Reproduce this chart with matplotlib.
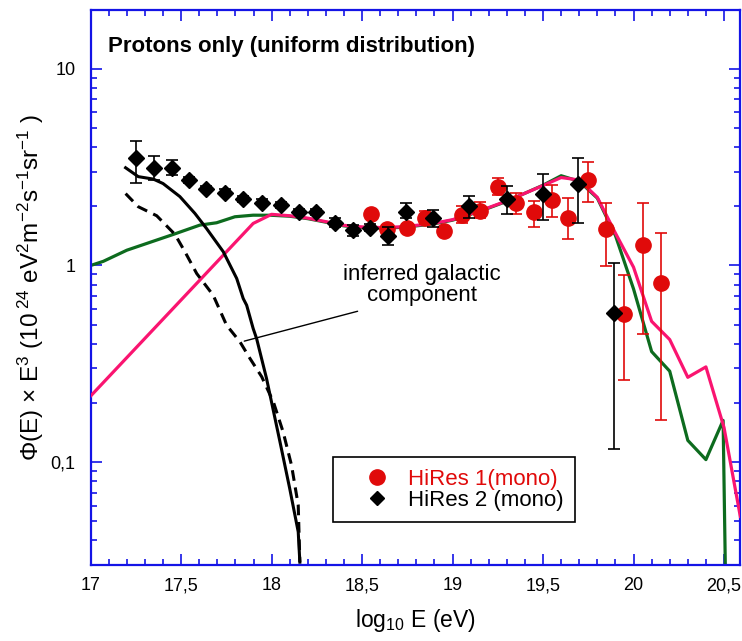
import numpy as np
import matplotlib
matplotlib.use("Agg")
import matplotlib.pyplot as plt
from matplotlib.ticker import FixedLocator, MultipleLocator, LogLocator, FuncFormatter, NullFormatter
from matplotlib.lines import Line2D

plt.rcParams['font.family'] = ['Liberation Sans', 'DejaVu Sans']
plt.rcParams['mathtext.fontset'] = 'custom'
plt.rcParams['mathtext.rm'] = 'Liberation Sans'
plt.rcParams['mathtext.it'] = 'Liberation Sans:italic'

# HiRes 1 (mono)
x_hr1 = [18.55, 18.64, 18.75, 18.85, 18.95, 19.05, 19.15, 19.25, 19.35, 19.45,
         19.55, 19.64, 19.75, 19.85, 19.95, 20.05, 20.15]
y_hr1 = [1.82, 1.54, 1.56, 1.75, 1.50, 1.80, 1.89, 2.52, 2.07, 1.86,
         2.15, 1.75, 2.72, 1.53, 0.565, 1.27, 0.817]
lo_hr1 = [1.76, 1.49, 1.51, 1.62, 1.45, 1.64, 1.74, 2.28, 1.82, 1.57,
          1.77, 1.36, 2.11, 0.99, 0.263, 0.446, 0.163]
hi_hr1 = [1.89, 1.60, 1.62, 1.89, 1.56, 2.01, 2.11, 2.77, 2.35, 2.12,
          2.58, 2.21, 3.37, 2.09, 0.892, 2.09, 1.455]

# HiRes 2 (mono)
x_hr2 = [17.25, 17.35, 17.45, 17.545, 17.64, 17.74, 17.84, 17.945, 18.05, 18.15,
         18.245, 18.35, 18.45, 18.543, 18.644, 18.742, 18.893, 19.09, 19.298, 19.50,
         19.694, 19.892]
y_hr2 = [3.50, 3.12, 3.14, 2.72, 2.46, 2.35, 2.18, 2.09, 2.03, 1.88,
         1.86, 1.65, 1.51, 1.56, 1.42, 1.88, 1.74, 2.01, 2.18, 2.30,
         2.61, 0.574]
lo_hr2 = [2.64, 2.72, 2.90, 2.62, 2.38, 2.27, 2.10, 2.02, 1.96, 1.82,
          1.80, 1.57, 1.42, 1.50, 1.27, 1.74, 1.57, 1.74, 1.82, 1.70,
          1.64, 0.116]
hi_hr2 = [4.31, 3.59, 3.43, 2.83, 2.55, 2.44, 2.26, 2.17, 2.10, 1.94,
          1.93, 1.74, 1.60, 1.62, 1.57, 2.07, 1.91, 2.26, 2.54, 2.91,
          3.50, 1.035]

# model: green curve
x_green = [17.0, 17.07, 17.2, 17.456, 17.603, 17.696, 17.797, 17.898, 18.0, 18.1,
           18.2, 18.3, 18.4, 18.5, 18.6, 18.7, 18.8, 18.9, 19.0, 19.1,
           19.2, 19.3, 19.4, 19.5, 19.6, 19.7, 19.8, 19.9, 20.0, 20.1,
           20.2, 20.3, 20.4, 20.495, 20.515]
y_green = [1.0, 1.05, 1.196, 1.438, 1.604, 1.649, 1.769, 1.802, 1.80, 1.78,
           1.73, 1.66, 1.59, 1.56, 1.55, 1.56, 1.59, 1.63, 1.70, 1.82,
           1.96, 2.12, 2.33, 2.56, 2.86, 2.68, 2.20, 1.42, 0.76, 0.365,
           0.29, 0.129, 0.103, 0.163, 0.01]

# model: pink curve
x_pink = [17.0, 17.898, 18.0, 18.1, 18.2, 18.3, 18.4, 18.5, 18.6, 18.7,
          18.8, 18.9, 19.0, 19.1, 19.2, 19.3, 19.4, 19.5, 19.6, 19.7,
          19.8, 19.9, 20.0, 20.1, 20.2, 20.3, 20.4, 20.5, 20.59]
y_pink = [0.217, 1.636, 1.82, 1.79, 1.74, 1.67, 1.60, 1.57, 1.56, 1.57,
          1.60, 1.64, 1.71, 1.83, 1.97, 2.13, 2.33, 2.55, 2.80, 2.72,
          2.22, 1.46, 0.98, 0.52, 0.42, 0.27, 0.305, 0.15, 0.053]

# inferred galactic component (solid / dashed)
x_gal = [17.193, 17.263, 17.346, 17.40, 17.493, 17.576, 17.64, 17.733, 17.807, 17.843,
         17.862, 17.898, 17.917, 17.972, 18.046, 18.10, 18.147, 18.156]
y_gal = [3.14, 2.83, 2.75, 2.61, 2.24, 1.84, 1.543, 1.174, 0.859, 0.679,
         0.628, 0.478, 0.425, 0.266, 0.127, 0.0734, 0.0442, 0.031]
x_gal2 = [17.193, 17.263, 17.365, 17.466, 17.521, 17.586, 17.677, 17.751, 17.825, 17.88,
          17.945, 18.01, 18.064, 18.11, 18.147, 18.156]
y_gal2 = [2.32, 1.99, 1.79, 1.438, 1.174, 0.91, 0.706, 0.497, 0.409, 0.337,
          0.272, 0.202, 0.142, 0.0964, 0.0604, 0.031]

blue = '#1414e6'
red = '#e00a0a'
pink = '#fa1470'
green = '#0d6b1e'

fig = plt.figure(figsize=(7.42, 6.41), dpi=100)
ax = fig.add_axes([0.1222, 0.1186, 0.8755, 0.8664])

ax.plot(x_green, y_green, color=green, lw=2.3, zorder=2)
ax.plot(x_pink, y_pink, color=pink, lw=2.3, zorder=3)
ax.plot(x_gal, y_gal, color='black', lw=2.2, zorder=3)
ax.plot(x_gal2, y_gal2, color='black', lw=2.2, ls=(0, (3.5, 2.2)), zorder=3)

y1 = np.array(y_hr1)
e1 = [y1 - np.array(lo_hr1), np.array(hi_hr1) - y1]
ax.errorbar(x_hr1, y_hr1, yerr=e1, fmt='o', color=red, ms=11, elinewidth=1.2,
            capsize=4, capthick=1.2, zorder=4)
y2 = np.array(y_hr2)
e2 = [y2 - np.array(lo_hr2), np.array(hi_hr2) - y2]
ax.errorbar(x_hr2, y_hr2, yerr=e2, fmt='D', color='black', ms=8.5, elinewidth=1.2,
            capsize=4, capthick=1.2, zorder=5)

# annotation
ax.annotate('', xy=(17.834, 0.409), xytext=(18.49, 0.59),
            arrowprops=dict(arrowstyle='-', color='black', lw=1.0))
ax.text(18.83, 0.80, 'inferred galactic\ncomponent', ha='center', va='center',
        fontsize=16, linespacing=1.0)

ax.text(0.027, 0.933, 'Protons only (uniform distribution)', transform=ax.transAxes,
        fontsize=16, fontweight='bold', va='center', ha='left')

ax.set_yscale('log')
ax.set_xlim(17, 20.59)
ax.set_ylim(0.03, 20)

ax.xaxis.set_major_locator(MultipleLocator(0.5))
ax.xaxis.set_minor_locator(MultipleLocator(0.1))
ax.xaxis.set_major_formatter(FuncFormatter(lambda v, p: ('%g' % v).replace('.', ',')))
ax.yaxis.set_major_locator(FixedLocator([0.1, 1, 10]))
ax.yaxis.set_minor_locator(LogLocator(base=10, subs=np.arange(2, 10)))
ax.yaxis.set_major_formatter(FuncFormatter(lambda v, p: ('%g' % v).replace('.', ',')))
ax.yaxis.set_minor_formatter(NullFormatter())

ax.tick_params(which='both', direction='in', top=True, right=True, color=blue,
               labelsize=13, width=1.2)
ax.tick_params(which='major', length=8)
ax.tick_params(which='minor', length=4.5)
ax.tick_params(axis='x', pad=9)
ax.tick_params(axis='y', pad=11)
for s in ax.spines.values():
    s.set_color(blue)
    s.set_linewidth(1.6)

ax.set_xlabel('log$_{10}$ E (eV)', fontsize=16.5, labelpad=9)
ax.set_ylabel('\u03a6(E) \u00d7 E$^{3}$ (10$^{\\ 24}$ eV$^{2}$m$^{-2}$s$^{-1}$sr$^{-1}$ )',
              fontsize=17.5, labelpad=3)

handles = [Line2D([], [], marker='o', color=red, ls='none', ms=11),
           Line2D([], [], marker='D', color='black', ls='none', ms=7.5)]
leg = ax.legend(handles, ['HiRes 1(mono)', 'HiRes 2 (mono)'], loc='lower left',
                bbox_to_anchor=(0.3735, 0.078), borderaxespad=0, fontsize=16,
                labelcolor=[red, 'black'], handlelength=2.9, handletextpad=-0.03,
                borderpad=0.5, labelspacing=0.0, fancybox=False, framealpha=1)
leg.get_frame().set_edgecolor('black')
leg.get_frame().set_linewidth(1.2)

fig.savefig('out.png', dpi=100)
